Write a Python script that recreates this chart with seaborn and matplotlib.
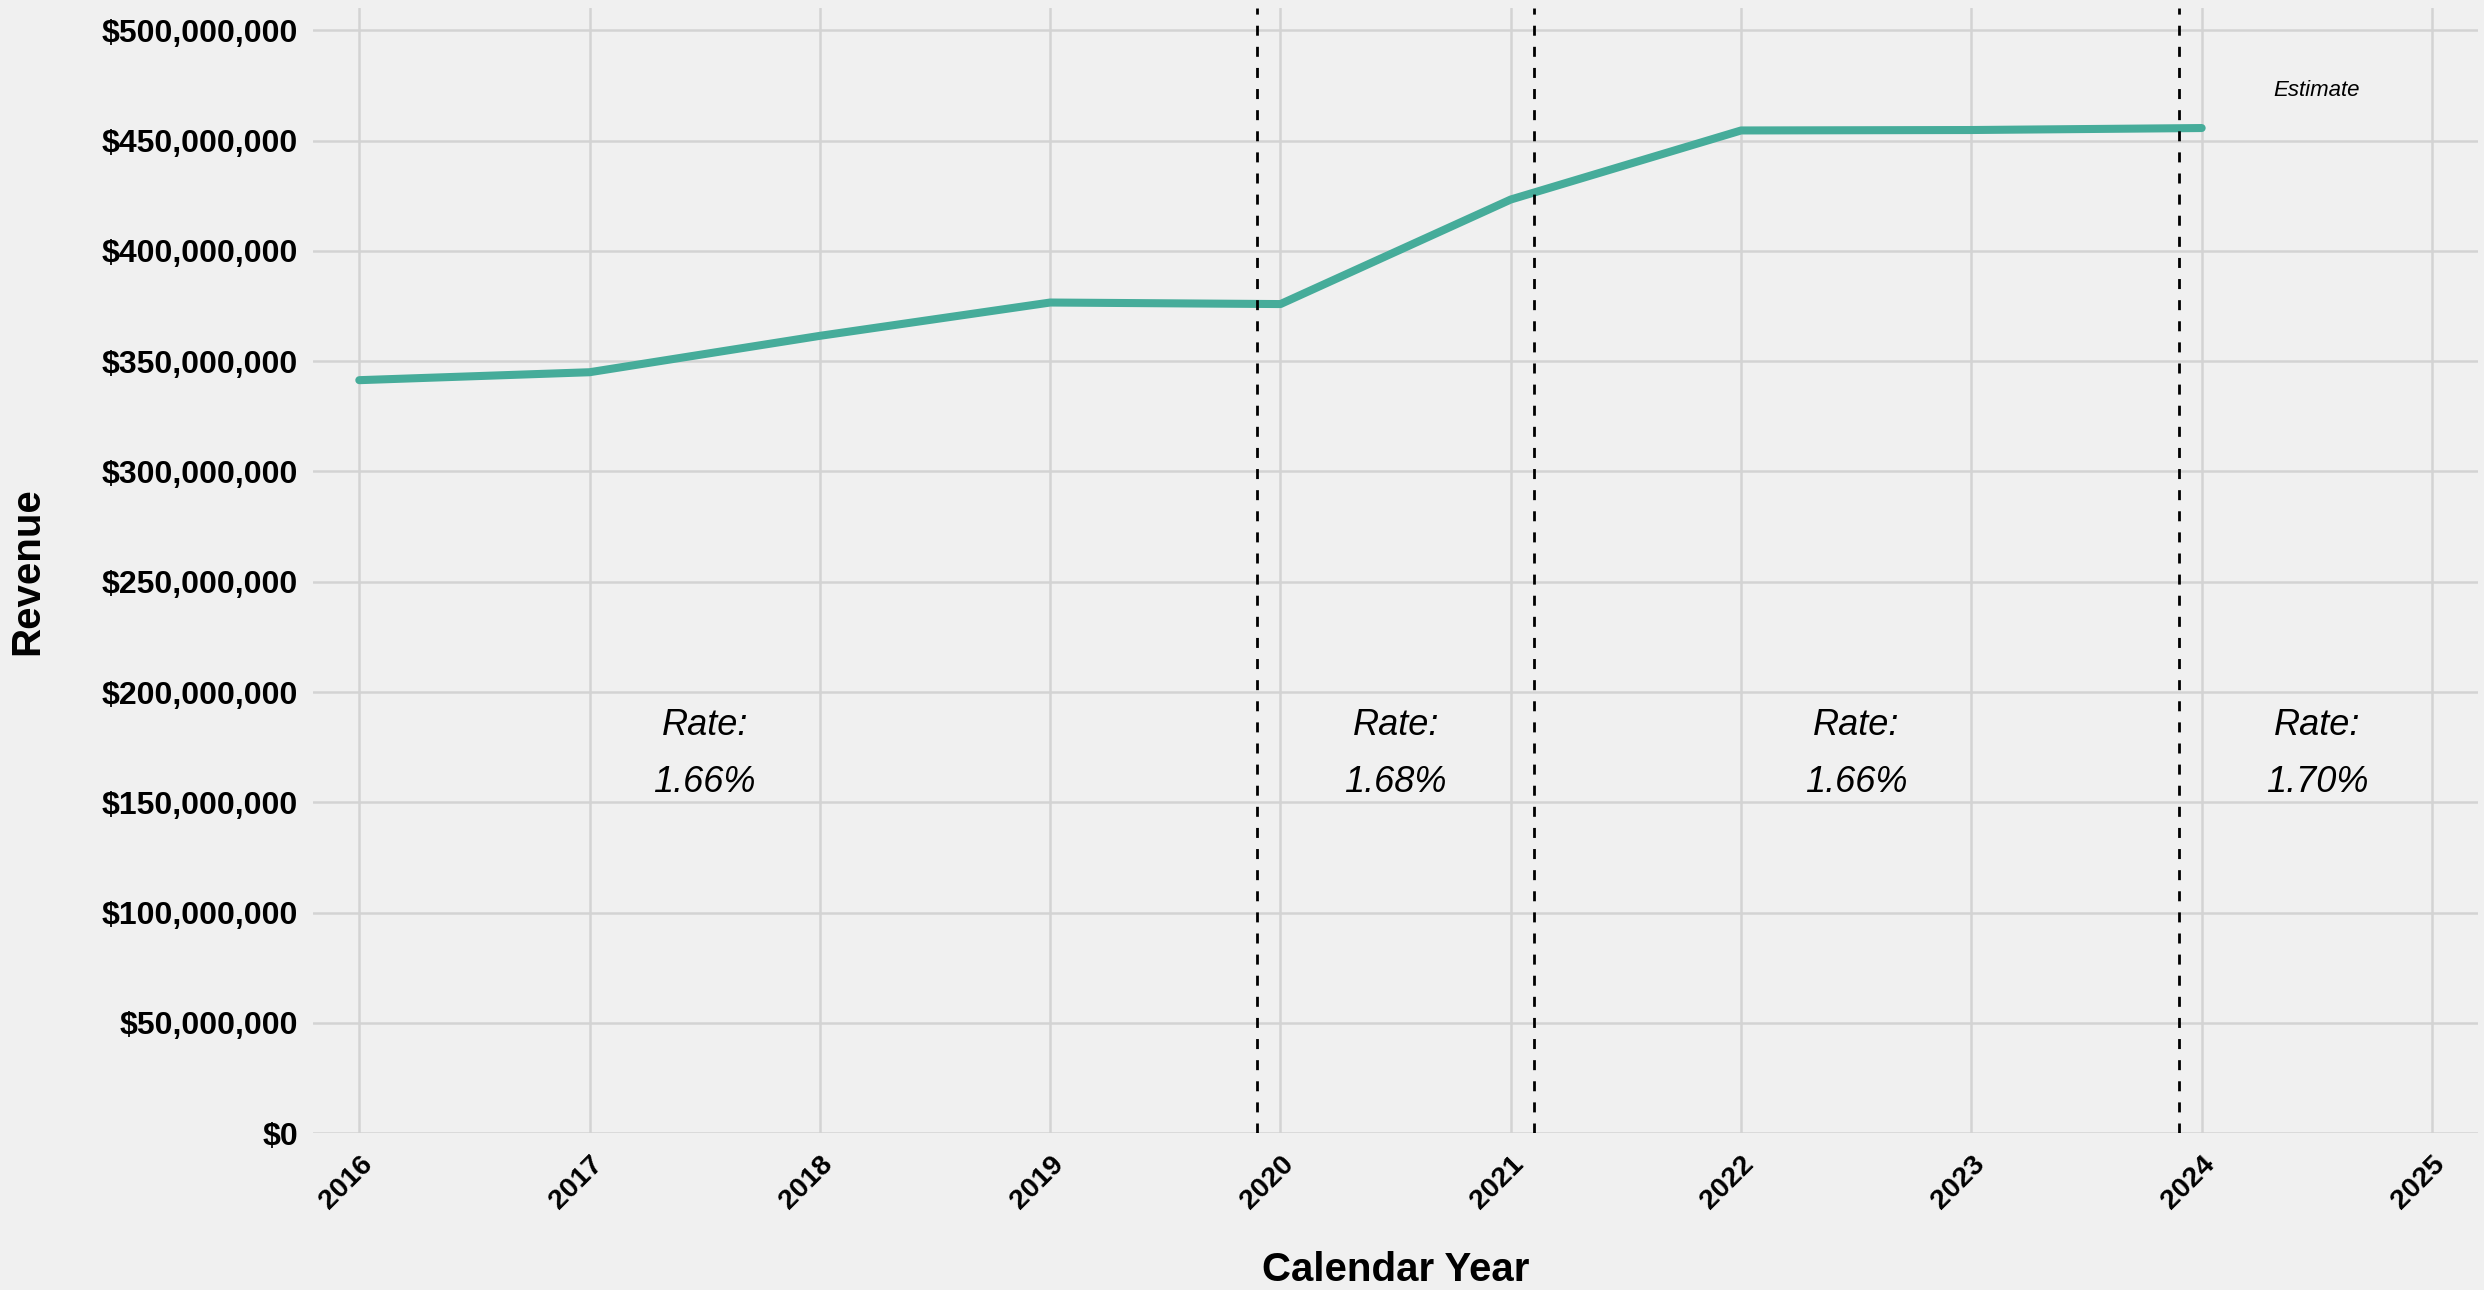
import matplotlib
matplotlib.use("Agg")
import matplotlib.pyplot as plt
import matplotlib.ticker as mticker
import pandas as pd
import seaborn as sns

# revenue by calendar year
years = [2016, 2017, 2018, 2019, 2020, 2021, 2022, 2023, 2024]
revenue = [341.4e6, 345.0e6, 361.5e6, 376.6e6, 375.9e6, 423.3e6, 454.6e6, 454.8e6, 455.7e6]

# rate periods: break lines and the label in the middle of each period
rate_breaks = [2019.9, 2021.1, 2023.9]
rate_mid_years = [2017.5, 2020.5, 2022.5, 2024.5]
rate_labels = ["1.66%", "1.68%", "1.66%", "1.70%"]

tick_years = list(range(2016, 2026))
y_ticks = list(range(0, 500_000_001, 50_000_000))

df = pd.DataFrame({"Calendar Year": years, "Revenue": revenue})

bg = "#f0f0f0"
grid_color = "#d3d3d3"
line_color = "#46ac9a"

sns.set_theme(style="whitegrid", rc={
    "axes.facecolor": bg,
    "figure.facecolor": bg,
    "grid.color": grid_color,
    "grid.linewidth": 1.8,
    "axes.edgecolor": bg,
    "text.color": "black",
    "axes.labelcolor": "black",
    "xtick.color": "black",
    "ytick.color": "black",
})
plt.rcParams["font.family"] = ["Liberation Sans", "DejaVu Sans"]

fig, ax = plt.subplots(figsize=(24.84, 12.9), dpi=100)
fig.subplots_adjust(left=0.1261, right=0.9976, top=0.9936, bottom=0.1215)

sns.lineplot(data=df, x="Calendar Year", y="Revenue", color=line_color,
             linewidth=5.8, ax=ax, zorder=3)

for xb in rate_breaks:
    ax.axvline(xb, color="black", linewidth=2, linestyle=(0, (3.6, 4)), zorder=4)

for xm, lab in zip(rate_mid_years, rate_labels):
    ax.text(xm, 180.5e6, "Rate:", ha="center", va="baseline", fontsize=26,
            fontstyle="italic", color="black")
    ax.text(xm, 154.8e6, lab, ha="center", va="baseline", fontsize=26,
            fontstyle="italic", color="black")

ax.text(rate_mid_years[-1], 470.2e6, "Estimate", ha="center", va="baseline",
        fontsize=16, fontstyle="italic", color="black")

ax.set_xlim(2015.8, 2025.2)
ax.set_ylim(0, 510e6)
ax.set_xticks(tick_years)
ax.set_yticks(y_ticks)
ax.yaxis.set_major_formatter(mticker.StrMethodFormatter("${x:,.0f}"))

ax.tick_params(axis="both", length=0)
ax.tick_params(axis="y", labelsize=23, pad=11)
ax.tick_params(axis="x", labelsize=20.5, pad=13)
for lbl in ax.get_yticklabels():
    lbl.set_fontweight("bold")
for lbl in ax.get_xticklabels():
    lbl.set_fontweight("bold")
    lbl.set_rotation(45)
    lbl.set_ha("right")
    lbl.set_va("top")
    lbl.set_rotation_mode("anchor")

ax.set_xlabel("Calendar Year", fontsize=29, fontweight="bold", labelpad=26)
ax.set_ylabel("Revenue", fontsize=29, fontweight="bold", labelpad=40)

for spine in ax.spines.values():
    spine.set_visible(False)
ax.grid(True, axis="both")

fig.savefig("out.png", dpi=100, facecolor=bg)
